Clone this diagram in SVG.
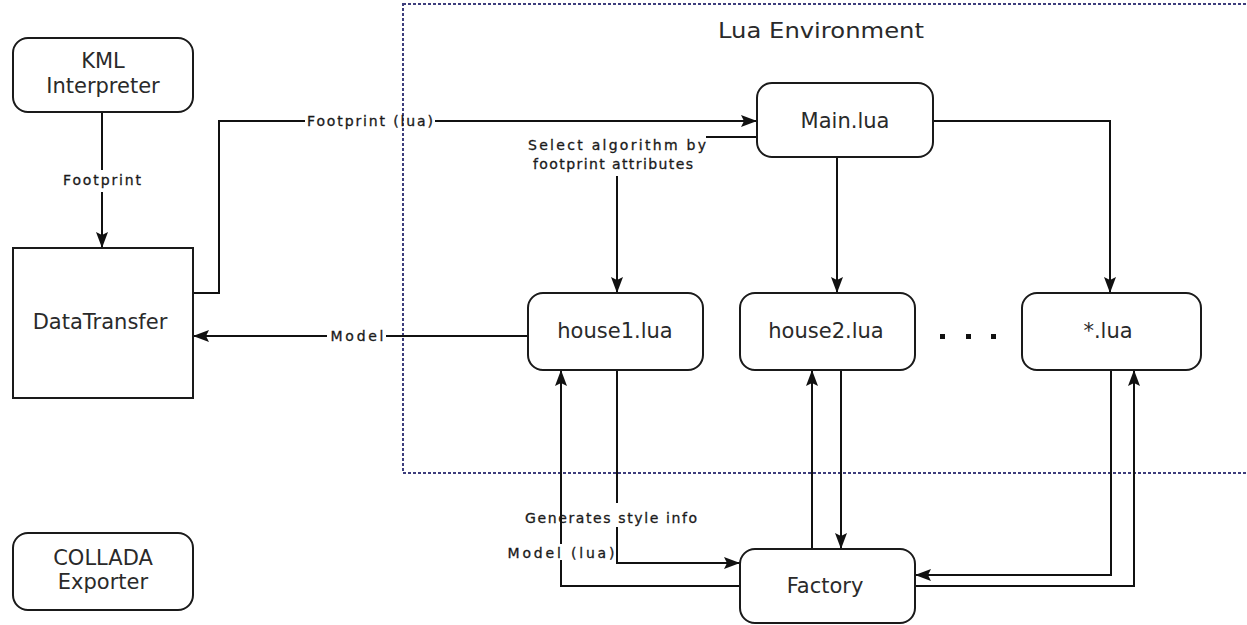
<svg xmlns="http://www.w3.org/2000/svg" width="1247" height="625" viewBox="0 0 1247 625">
  <style>
    .node { fill: #ffffff; stroke: #1a1a1a; stroke-width: 2; }
    .title { font-family: "DejaVu Sans", "Liberation Sans", sans-serif; font-size: 21px; fill: #2a2a2a; text-anchor: middle; }
    .wire { fill: none; stroke: #111111; stroke-width: 2; }
    .lbl { font-family: "DejaVu Sans", "Liberation Sans", sans-serif; font-size: 14px; fill: #1a1a1a; stroke: #1a1a1a; stroke-width: 0.3; text-anchor: middle; }
    .env { fill: none; stroke: #3e3e7c; stroke-width: 2; stroke-dasharray: 3 2; }
  </style>
  <defs>
    <marker id="arrow" markerUnits="userSpaceOnUse" markerWidth="17" markerHeight="14" refX="16" refY="7" orient="auto">
      <path d="M0,1 L16,7 L0,13 L3,7 z" fill="#111111"/>
    </marker>
  </defs>

  <rect width="1247" height="625" fill="#ffffff"/>

  <!-- Lua environment boundary -->
  <g id="lua-environment">
    <rect class="env" x="403" y="4" width="852" height="469"/>
    <text x="821" y="38" font-family="DejaVu Sans, Liberation Sans, sans-serif" font-size="21" fill="#2a2a2a" text-anchor="middle" textLength="206" lengthAdjust="spacingAndGlyphs">Lua Environment</text>
  </g>

  <!-- Connectors -->
  <g id="connectors">
    <!-- KML Interpreter -> DataTransfer -->
    <path class="wire" d="M102,112 V170"/>
    <path class="wire" d="M102,192 V248" marker-end="url(#arrow)"/>
    <text class="lbl" x="102" y="185" textLength="78" lengthAdjust="spacing">Footprint</text>

    <!-- DataTransfer -> Main.lua -->
    <path class="wire" d="M193,293 H219 V121 H305"/>
    <path class="wire" d="M435,121 H757" marker-end="url(#arrow)"/>
    <text class="lbl" x="370" y="126" textLength="126" lengthAdjust="spacing">Footprint (lua)</text>

    <!-- Main.lua -> house1.lua -->
    <path class="wire" d="M757,137 H706"/>
    <path class="wire" d="M617,176 V293" marker-end="url(#arrow)"/>
    <text class="lbl" x="617" y="150" textLength="178" lengthAdjust="spacing">Select  algorithm by</text>
    <text class="lbl" x="613" y="169" textLength="160" lengthAdjust="spacing">footprint attributes</text>

    <!-- Main.lua -> house2.lua -->
    <path class="wire" d="M837,157 V293" marker-end="url(#arrow)"/>

    <!-- Main.lua -> *.lua -->
    <path class="wire" d="M933,121 H1110 V293" marker-end="url(#arrow)"/>

    <!-- house1.lua -> DataTransfer -->
    <path class="wire" d="M528,336 H386"/>
    <path class="wire" d="M327,336 H193" marker-end="url(#arrow)"/>
    <text class="lbl" x="357" y="341" textLength="53" lengthAdjust="spacing">Model</text>

    <!-- house1.lua -> Factory -->
    <path class="wire" d="M617,370 V503"/>
    <path class="wire" d="M617,527 V563 H740" marker-end="url(#arrow)"/>
    <text class="lbl" x="611" y="523" textLength="172" lengthAdjust="spacing">Generates style info</text>

    <!-- Factory -> house1.lua -->
    <path class="wire" d="M740,586 H561 V560"/>
    <path class="wire" d="M561,544 V370" marker-end="url(#arrow)"/>
    <text class="lbl" x="561" y="558" textLength="107" lengthAdjust="spacing">Model  (lua)</text>

    <!-- Factory <-> house2.lua -->
    <path class="wire" d="M812,549 V370" marker-end="url(#arrow)"/>
    <path class="wire" d="M841,370 V549" marker-end="url(#arrow)"/>

    <!-- *.lua <-> Factory -->
    <path class="wire" d="M1111,370 V575 H915" marker-end="url(#arrow)"/>
    <path class="wire" d="M915,586 H1134 V370" marker-end="url(#arrow)"/>
  </g>

  <!-- Nodes -->
  <g id="kml-interpreter">
    <rect class="node" x="13" y="38" width="180" height="74" rx="15"/>
    <text class="title" x="103" y="68">KML</text>
    <text class="title" x="103" y="93">Interpreter</text>
  </g>

  <g id="data-transfer">
    <rect class="node" x="13" y="248" width="180" height="150"/>
    <text class="title" x="100" y="329">DataTransfer</text>
  </g>

  <g id="collada-exporter">
    <rect class="node" x="13" y="533" width="180" height="77" rx="15"/>
    <text class="title" x="103" y="565">COLLADA</text>
    <text class="title" x="103" y="589">Exporter</text>
  </g>

  <g id="main-lua">
    <rect class="node" x="757" y="83" width="176" height="74" rx="15"/>
    <text class="title" x="845" y="128">Main.lua</text>
  </g>

  <g id="house1-lua">
    <rect class="node" x="528" y="293" width="175" height="77" rx="15"/>
    <text class="title" x="615" y="338">house1.lua</text>
  </g>

  <g id="house2-lua">
    <rect class="node" x="740" y="293" width="175" height="77" rx="15"/>
    <text class="title" x="826" y="338">house2.lua</text>
  </g>

  <g id="ellipsis">
    <rect x="940" y="334" width="5" height="5" fill="#111111"/>
    <rect x="966" y="334" width="5" height="5" fill="#111111"/>
    <rect x="991" y="334" width="5" height="5" fill="#111111"/>
  </g>

  <g id="star-lua">
    <rect class="node" x="1022" y="293" width="179" height="77" rx="15"/>
    <text class="title" x="1108" y="338">*.lua</text>
  </g>

  <g id="factory">
    <rect class="node" x="740" y="549" width="175" height="74" rx="15"/>
    <text class="title" x="825" y="593">Factory</text>
  </g>
</svg>
